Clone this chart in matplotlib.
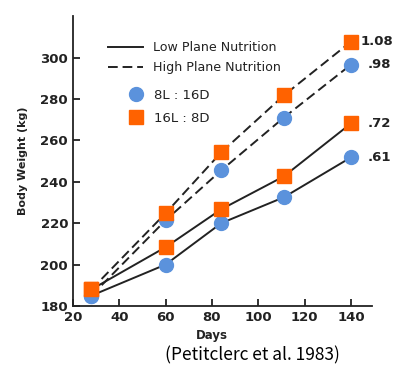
import matplotlib
matplotlib.use('Agg')
import matplotlib.pyplot as plt
from matplotlib.lines import Line2D

# data
days = [28, 60, 84, 111, 140]
low_8l = [185, 200, 220, 232.5, 251.8]
low_16l = [188, 208.4, 226.7, 242.6, 268.2]
high_8l = [185, 221.4, 245.5, 271, 296.6]
high_16l = [188, 224.8, 254.2, 281.7, 307.7]
end_labels = ['.61', '.72', '.98', '1.08']

blue = '#5B92DC'
orange = '#FF6200'
ink = '#222222'
dash = (0, (5, 2.5))

fig = plt.figure(figsize=(3.94, 3.66), dpi=100)
ax = fig.add_axes([0.185, 0.164, 0.759, 0.792])

series = [(low_8l, '-', 'o', blue), (low_16l, '-', 's', orange),
          (high_8l, dash, 'o', blue), (high_16l, dash, 's', orange)]
for vals, ls, mk, col in series:
    ax.plot(days, vals, color=ink, lw=1.4, ls=ls, zorder=2)
for vals, ls, mk, col in series:
    ms = 9.5 if mk == 's' else 10
    ax.plot(days, vals, ls='none', marker=mk, ms=ms, mfc=col, mec=col, zorder=3)

for (vals, ls, mk, col), lab in zip(series, end_labels):
    ax.annotate(lab, (days[-1], vals[-1]), xytext=(12 if lab != '1.08' else 7, 0),
                textcoords='offset points', va='center', ha='left',
                fontsize=9.5, fontweight='bold', color=ink)

ax.set_xticks([20, 40, 60, 80, 100, 120, 140])
ax.set_yticks([180, 200, 220, 240, 260, 280, 300])
ax.set_xlim(20, 149)
ax.set_ylim(180, 320)
for s in ['top', 'right']:
    ax.spines[s].set_visible(False)
for s in ['left', 'bottom']:
    ax.spines[s].set_linewidth(1.3)
    ax.spines[s].set_color(ink)
ax.tick_params(direction='in', length=5, width=1.3, color=ink, labelsize=9.5)
for t in ax.get_xticklabels() + ax.get_yticklabels():
    t.set_fontweight('bold')
    t.set_color(ink)
ax.set_xlabel('Days', fontsize=8.5, fontweight='bold', color=ink, va='center')
ax.xaxis.set_label_coords(0.465, -0.103)
ax.set_ylabel('Body Weight (kg)', fontsize=8, fontweight='bold', labelpad=9, color=ink)

handles1 = [Line2D([], [], color=ink, lw=1.4, ls='-'),
            Line2D([], [], color=ink, lw=1.4, ls=dash)]
leg1 = ax.legend(handles1, ['Low Plane Nutrition', 'High Plane Nutrition'],
                 loc='upper left', bbox_to_anchor=(0.078, 0.953), frameon=False,
                 handlelength=2.8, handletextpad=0.8, labelspacing=0.55,
                 prop={'size': 9.1}, labelcolor=ink)
ax.add_artist(leg1)
handles2 = [Line2D([], [], ls='none', marker='o', ms=10, mfc=blue, mec=blue),
            Line2D([], [], ls='none', marker='s', ms=9.5, mfc=orange, mec=orange)]
ax.legend(handles2, ['8L : 16D', '16L : 8D'], loc='upper left',
          bbox_to_anchor=(0.148, 0.79), frameon=False, handlelength=1.0,
          handletextpad=0.9, labelspacing=0.75, prop={'size': 9.5},
          labelcolor=ink)

fig.text(0.64, 0.03, '(Petitclerc et al. 1983)', ha='center', va='center',
         fontsize=12.5, family=['Noto Sans CJK JP', 'DejaVu Sans'])

fig.savefig('out.png', dpi=100)
